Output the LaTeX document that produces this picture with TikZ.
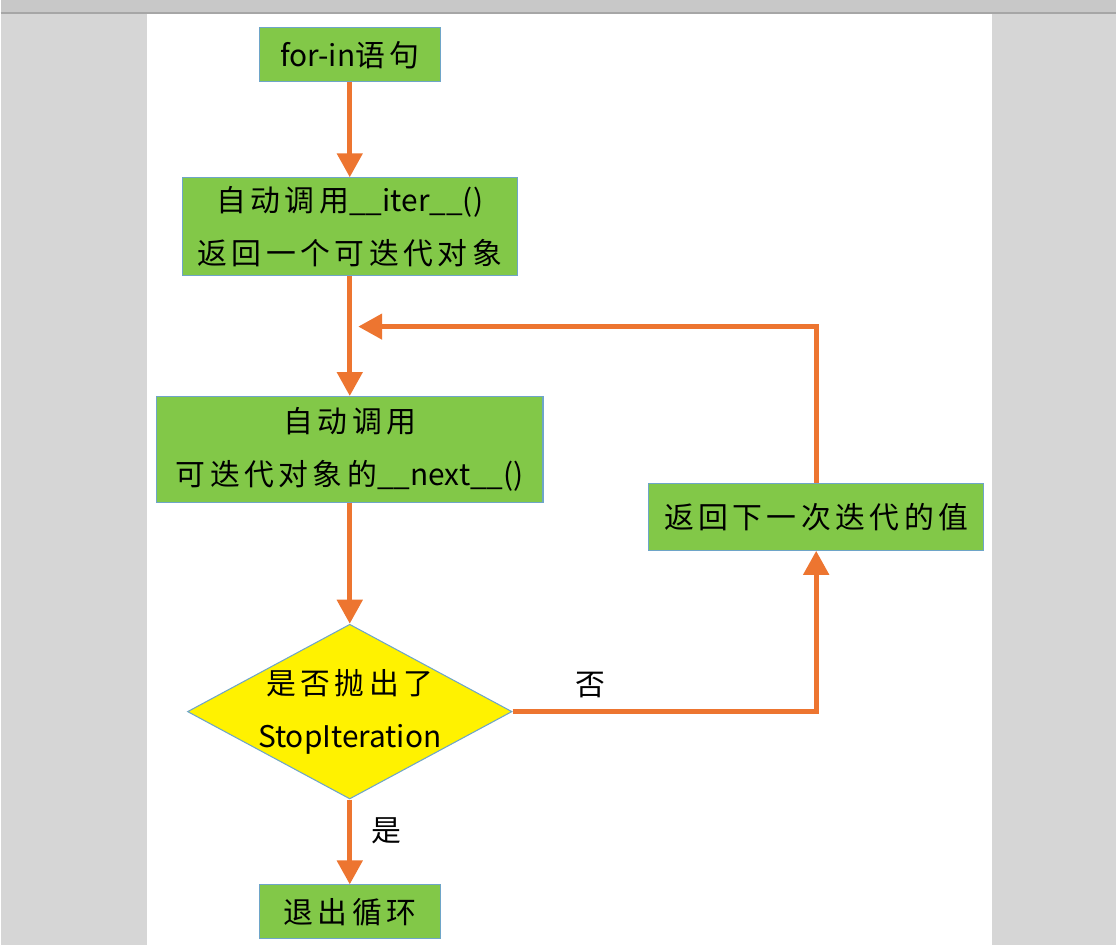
\documentclass[tikz,border=0pt]{standalone}
\usepackage{fontspec}
\setmainfont{Noto Sans CJK SC}
\newfontfamily\cjk[LetterSpace=15]{Noto Sans CJK SC}
\usetikzlibrary{arrows.meta,positioning,shapes.geometric,calc}
\definecolor{boxgreen}{RGB}{130,200,72}
\definecolor{boxedge}{RGB}{110,165,200}
\definecolor{flowline}{RGB}{237,117,48}
\definecolor{pagegray}{RGB}{214,214,214}
\definecolor{bargray}{RGB}{200,200,200}
\tikzset{
  font={\fontsize{17pt}{30pt}\selectfont}}

\begin{document}
\begin{tikzpicture}[x=0.02cm,y=-0.02cm,
    block_step/.style ={rectangle, draw=boxedge, line width=0.6pt, fill=boxgreen,
      text centered, inner sep=0pt},
    block_decide/.style ={diamond, draw=boxedge, line width=0.6pt, fill=yellow,
      aspect=1.86, inner sep=-0.5cm, minimum width=6.5cm, minimum height=3.5cm,
      align=center},
    block_label/.style ={draw=none, fill=none, inner sep=0pt},
    paths2/.style={flowline, draw, line width=2.8pt,
      arrows={-Triangle[length=0.48cm, width=0.5cm, flowline]}}]
    % page background
    \fill[pagegray] (0,0) rectangle (1117,946);
    \fill[bargray] (0,0) rectangle (1117,13);
    \draw[gray!70, line width=0.8pt] (0,13) -- (1117,13);
    \fill[white] (146,14) rectangle (993,946);
    \useasboundingbox (0,0) rectangle (1117,946);
    % main column
    \node[block_step, minimum width=3.62cm, minimum height=1.08cm] (forin) at (349.5,55) {for-in{\cjk 语句}};
    \node[block_step, minimum width=6.7cm, minimum height=1.96cm, align=center] (iter) at (349.5,227)
      {{\cjk 自动调用}\_\_iter\_\_()\\{\cjk 返回一个可迭代对象}};
    \node[block_step, minimum width=7.74cm, minimum height=2.12cm, align=center] (next) at (349.5,450)
      {{\cjk 自动调用}\\{\cjk 可迭代对象的}\_\_next\_\_()};
    \node[block_decide] (stop) at (349.5,712.5) {{\cjk 是否抛出了}\\StopIteration};
    \node[block_step, minimum width=3.62cm, minimum height=1.08cm] (exit) at (349.5,913) {{\cjk 退出循环}};
    % side branch
    \node[block_step, minimum width=6.7cm, minimum height=1.34cm] (nextval) at (816.5,517.5) {{\cjk 返回下一次迭代的值}};
    \coordinate (loopin) at (358,327);
    \node[block_label] (lblno) at (590,686) {否};
    \node[block_label] (lblyes) at (386,832) {是};
    % connecting nodes with paths
    \begin{scope}[every path/.style=paths2]
      \path (forin) -- (iter);
      \path (iter) -- (next);
      \path (next) -- (stop);
      \path (stop) -- (exit);
      \path (stop.east) -| (nextval.south);
      \path (nextval.north) |- (loopin);
    \end{scope}
  \end{tikzpicture}
\end{document}
